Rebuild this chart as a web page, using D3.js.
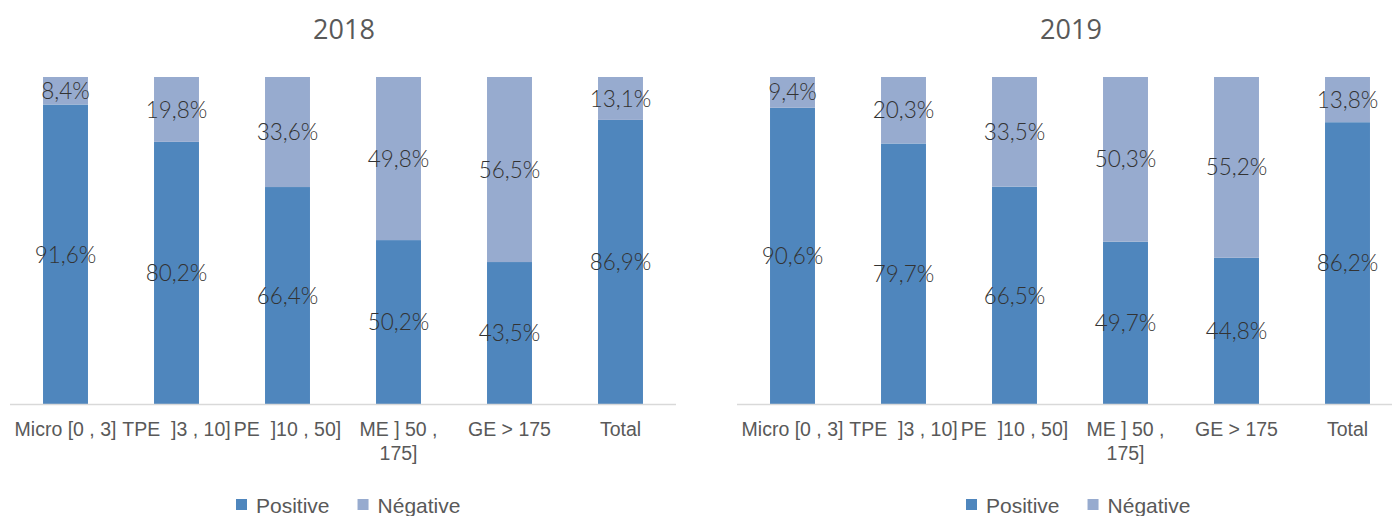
<!DOCTYPE html>
<html><head><meta charset="utf-8">
<script src="https://cdn.jsdelivr.net/npm/d3@7"></script>
<style>body{margin:0;background:#fff}svg{display:block}</style>
</head><body>
<svg id="chart" width="1392" height="516"></svg>
<script>
const categories = ["Micro [0 , 3]", "TPE  ]3 , 10]", "PE  ]10 , 50]", "ME ] 50 , 175]", "GE > 175", "Total"];
const years = ["2018", "2019"];
const positive2018 = [91.6, 80.2, 66.4, 50.2, 43.5, 86.9];
const negative2018 = [8.4, 19.8, 33.6, 49.8, 56.5, 13.1];
const positive2019 = [90.6, 79.7, 66.5, 49.7, 44.8, 86.2];
const negative2019 = [9.4, 20.3, 33.5, 50.3, 55.2, 13.8];
const seriesNames = ["Positive", "Négative"];

const colors = {"Positive": "#4f86bd", "Négative": "#97abcf"};
const svg = d3.select("#chart");
const fmt = v => d3.format(".1f")(v).replace(".", ",") + "%";

const panels = [
  {year: years[0], pos: positive2018, neg: negative2018, x0: 10, x1: 676, legendX: 236},
  {year: years[1], pos: positive2019, neg: negative2019, x0: 737, x1: 1403, legendX: 966}
];

function wrap(text, width) {
  text.each(function() {
    const t = d3.select(this);
    const raw = t.text();
    let line = [], lineNo = 0;
    const yy = t.attr("y"), dy = parseFloat(t.attr("dy")) || 0;
    t.text(null);
    let tspan = t.append("tspan").attr("x", 0).attr("y", yy).attr("dy", dy + "em");
    const tokens = raw.split(/ (?=[^ ])/);
    for (const w of tokens) {
      line.push(w);
      tspan.text(line.join(" "));
      if (tspan.node().getComputedTextLength() > width && line.length > 1) {
        line.pop();
        tspan.text(line.join(" "));
        line = [w];
        lineNo++;
        tspan = t.append("tspan").attr("x", 0).attr("y", yy).attr("dy", (lineNo * 1.2 + dy) + "em").text(w);
      }
    }
  });
}

const y = d3.scaleLinear().domain([0, 100]).range([404.5, 77]);

panels.forEach(p => {
  const g = svg.append("g");
  const x = d3.scaleBand().domain(categories).range([p.x0, p.x1]).paddingInner(0.595).paddingOuter(0.2975);
  const rows = categories.map((c, i) => ({cat: c, Positive: p.pos[i], "Négative": p.neg[i]}));
  const stack = d3.stack().keys(seriesNames)(rows);

  g.append("text").attr("x", (p.x0 + p.x1) / 2 + 1)
    .attr("y", 39).attr("text-anchor", "middle")
    .style("font-family", "'Open Sans', sans-serif").style("font-size", "27px").style("fill", "#595959")
    .text(p.year);

  stack.forEach(s => {
    g.append("g").selectAll("rect").data(s).join("rect")
      .attr("x", d => x(d.data.cat)).attr("width", x.bandwidth())
      .attr("y", d => y(d[1])).attr("height", d => y(d[0]) - y(d[1]))
      .attr("fill", colors[s.key]);
    g.append("g").selectAll("text").data(s).join("text")
      .attr("x", d => x(d.data.cat) + x.bandwidth() / 2)
      .attr("y", d => (y(d[0]) + y(d[1])) / 2).attr("dy", "0.36em")
      .attr("text-anchor", "middle")
      .style("font-family", "Lato, sans-serif").style("font-weight", 300).style("font-size", "22.5px").style("fill", "#333")
      .text(d => fmt(d.data[s.key]));
  });

  const axis = d3.axisBottom(x).tickSize(0).tickPadding(18);
  const ag = g.append("g").attr("transform", `translate(0,${y(0)})`).call(axis);
  ag.select(".domain").attr("stroke", "#d9d9d9").attr("stroke-width", 1.5).attr("d", `M${p.x0},0H${p.x1}`);
  ag.selectAll(".tick text")
    .style("font-family", "'Liberation Sans Narrow', 'Arial Narrow', sans-serif").style("font-size", "19.5px").style("fill", "#595959")
    .style("white-space", "pre")
    .call(wrap, 118);

  const lg = g.append("g").attr("transform", `translate(${p.legendX},505)`);
  let lx = 0;
  seriesNames.forEach(n => {
    lg.append("rect").attr("x", lx).attr("y", -6).attr("width", 11).attr("height", 11).attr("fill", colors[n]);
    const t = lg.append("text").attr("x", lx + 20).attr("y", 0).attr("dy", "0.36em")
      .style("font-family", "'Liberation Sans Narrow', sans-serif").style("font-size", "21px").style("fill", "#595959").text(n);
    lx += 20 + t.node().getComputedTextLength() + 28;
  });
});
</script>
</body></html>
